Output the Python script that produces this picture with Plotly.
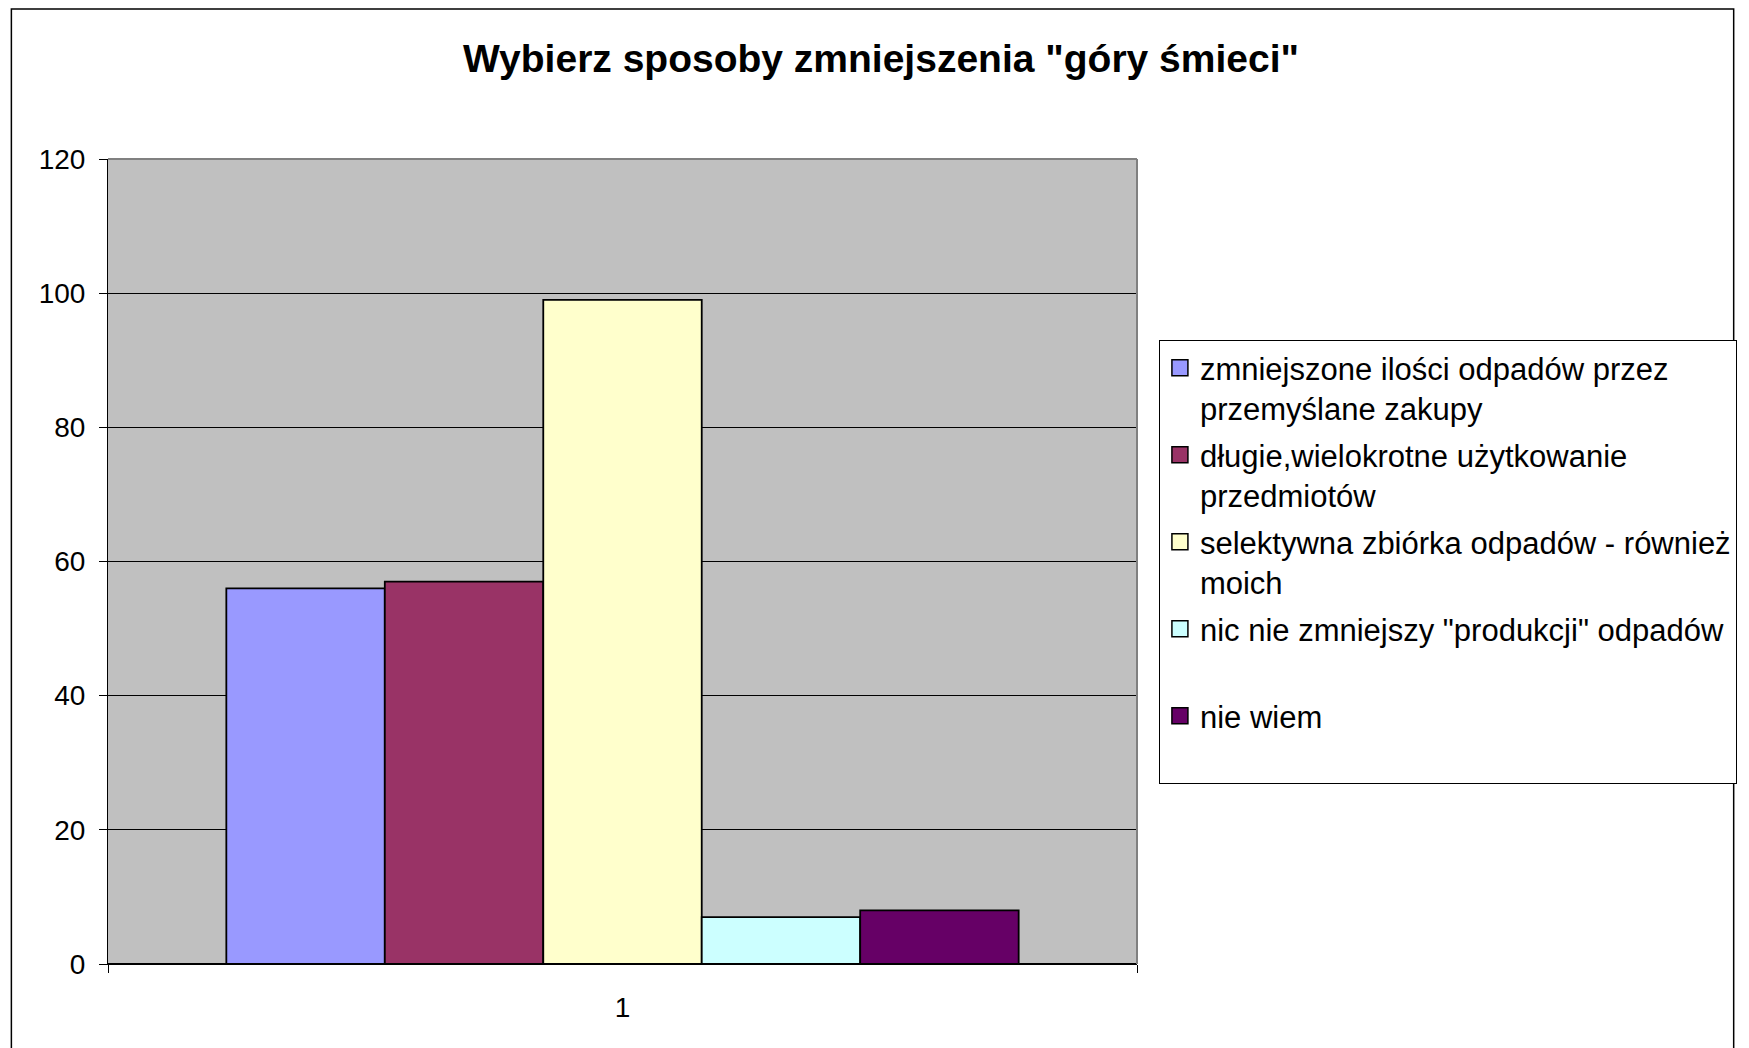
import plotly.graph_objects as go

categories = ["1"]
series_names = [
    "zmniejszone ilości odpadów przez<br>przemyślane zakupy",
    "długie,wielokrotne użytkowanie<br>przedmiotów",
    "selektywna zbiórka odpadów - również<br>moich",
    "nic nie zmniejszy \"produkcji\" odpadów<br> ",
    "nie wiem<br> ",
]
series_values = [56, 57, 99, 7, 8]
series_colors = ["#9999FF", "#993366", "#FFFFCC", "#CCFFFF", "#660066"]
y_ticks = [0, 20, 40, 60, 80, 100, 120]

FONT = "Liberation Sans, Arial, sans-serif"
OFF = 8  # page body margin compensation
W, H = 1749 - OFF, 1048 - OFF
L, R, T, B = 108 - OFF, 1141 - OFF, 159 - OFF, 964 - OFF


def px_x(p):
    return (p - OFF - L) / (R - L)


def px_y(p):
    return (B - (p - OFF)) / (B - T)


fig = go.Figure()
for i, (name, val, col) in enumerate(zip(series_names, series_values, series_colors)):
    fig.add_trace(go.Bar(
        x=categories, y=[val], name=name, legendgroup=f"g{i}", showlegend=False,
        marker=dict(color=col, line=dict(color="black", width=1.8)),
    ))
    # legend entry with a larger square key, like the original
    fig.add_trace(go.Scatter(
        x=categories, y=[None], name=name, legendgroup=f"g{i}", mode="markers",
        marker=dict(symbol="square", size=17, color=col,
                    line=dict(color="black", width=1.5)),
        hoverinfo="skip",
    ))

fig.update_layout(
    width=W, height=H,
    margin=dict(l=L, r=W - R, t=T, b=H - B, pad=0),
    paper_bgcolor="white",
    plot_bgcolor="#C0C0C0",
    barmode="group",
    bargap=0.23,
    bargroupgap=0,
    font=dict(family=FONT, color="black"),
    title=dict(
        text="<b>Wybierz sposoby zmniejszenia \"góry śmieci\"</b>",
        font=dict(family=FONT, size=39, color="black"),
        x=(881 - OFF) / W, xanchor="center", xref="container",
        y=1 - (58 - OFF) / H, yanchor="middle",
    ),
    legend=dict(
        x=px_x(1163), xanchor="left",
        y=px_y(340), yanchor="top",
        bgcolor="white", bordercolor="black", borderwidth=1,
        font=dict(family=FONT, size=31, color="black"),
        tracegroupgap=3.4,
        traceorder="grouped",
        valign="top",
        itemsizing="trace",
    ),
    showlegend=True,
)

fig.update_xaxes(
    type="category",
    showgrid=False,
    showline=True, linecolor="black", linewidth=1,
    ticks="outside", tickson="boundaries", ticklen=8, tickcolor="black",
    tickfont=dict(family=FONT, size=28, color="black"),
    ticklabelstandoff=18,
)
fig.update_yaxes(
    range=[0, 120],
    tickvals=y_ticks,
    showgrid=True, gridcolor="black", gridwidth=1,
    zeroline=True, zerolinecolor="black", zerolinewidth=2,
    showline=True, linecolor="black", linewidth=1,
    ticks="outside", ticklen=8, tickcolor="black",
    tickfont=dict(family=FONT, size=28, color="black"),
    ticklabelstandoff=8,
)

# plot area border (top and right edges in gray)
fig.add_shape(type="line", xref="paper", yref="paper", x0=0, x1=1, y0=1, y1=1,
              line=dict(color="#808080", width=2), layer="above")
fig.add_shape(type="line", xref="paper", yref="paper", x0=1, x1=1, y0=0, y1=1,
              line=dict(color="#808080", width=2), layer="above")

# outer chart border
fig.add_shape(type="rect", xref="paper", yref="paper",
              x0=px_x(11), x1=px_x(1740), y0=px_y(1060), y1=px_y(9),
              line=dict(color="black", width=1.5), fillcolor="rgba(0,0,0,0)", layer="above")

fig.write_html("out.html")
